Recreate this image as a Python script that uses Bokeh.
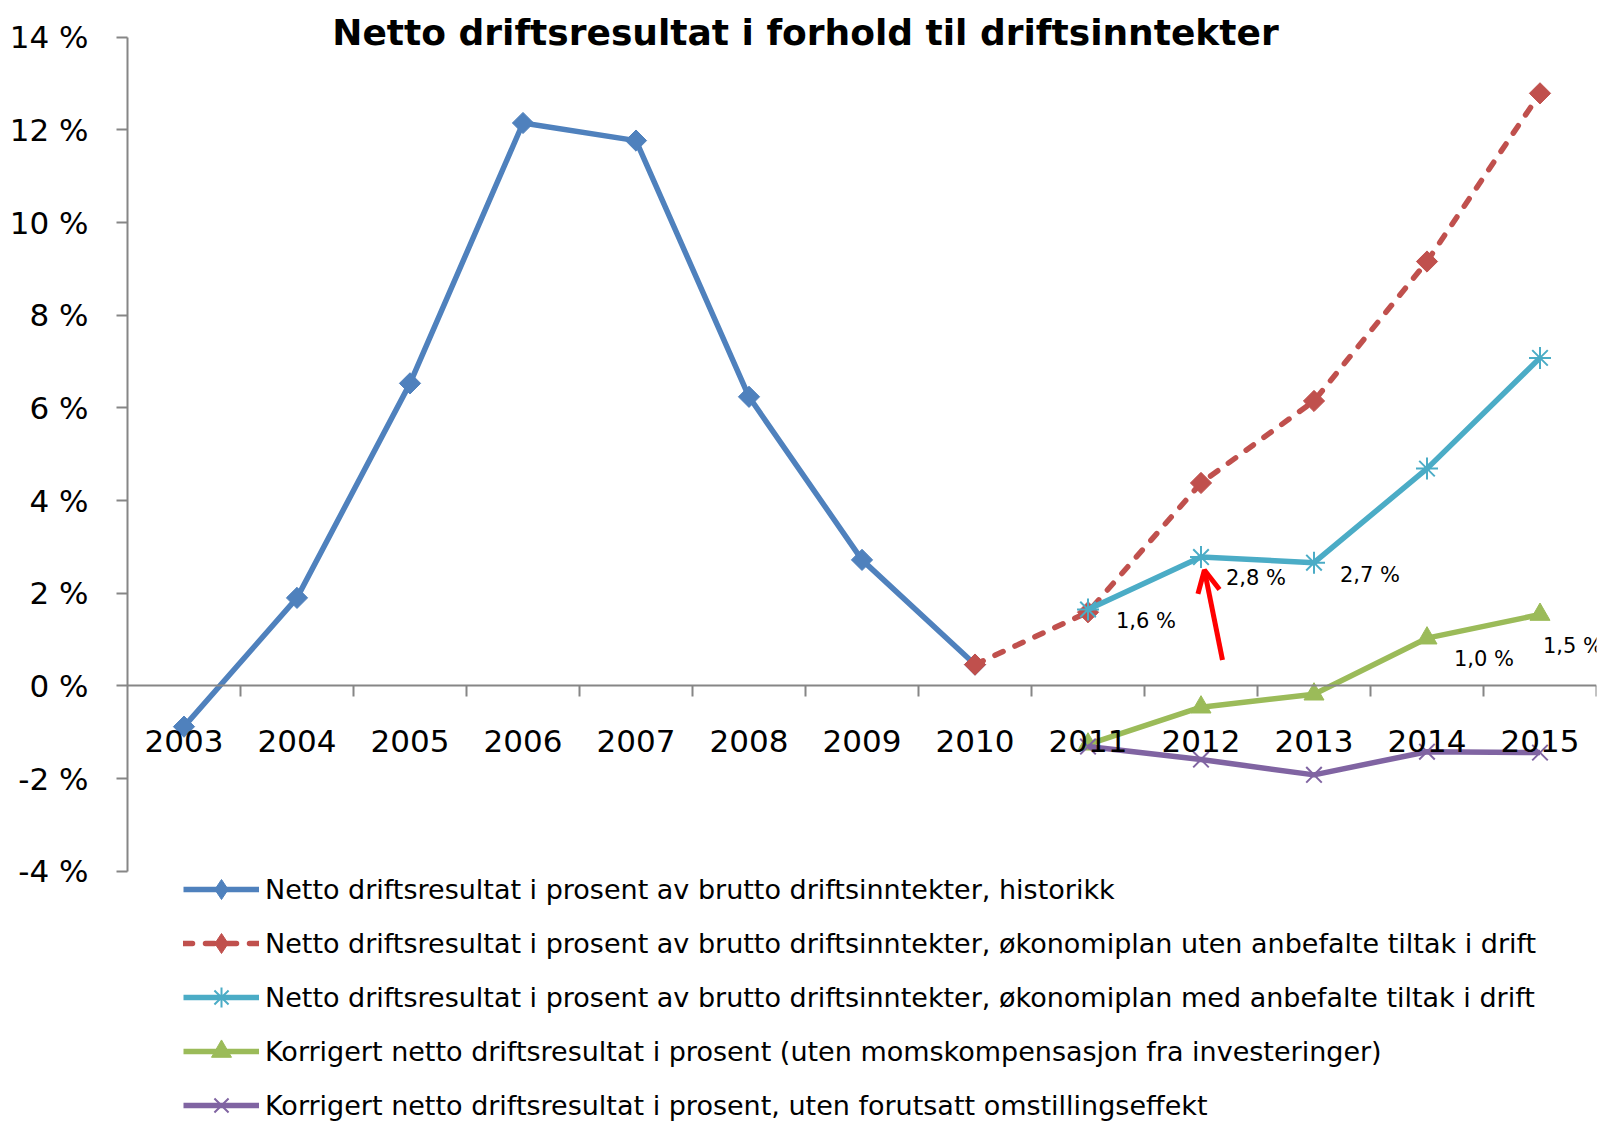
import numpy as np
from bokeh.plotting import figure
from bokeh.models import (Range1d, FixedTicker, LinearAxis, Legend, LegendItem, Label,
                          LabelSet, Arrow, OpenHead, ColumnDataSource, PrintfTickFormatter)
from bokeh.core.properties import value
from bokeh.embed import file_html
from bokeh.resources import INLINE

# ---------------- data ----------------
title_text = "Netto driftsresultat i forhold til driftsinntekter"
years = ["2003", "2004", "2005", "2006", "2007", "2008", "2009",
         "2010", "2011", "2012", "2013", "2014", "2015"]

hist_years = ["2003", "2004", "2005", "2006", "2007", "2008", "2009", "2010"]
hist_vals = [-0.88, 1.90, 6.53, 12.15, 11.77, 6.24, 2.72, 0.46]

uten_years = ["2010", "2011", "2012", "2013", "2014", "2015"]
uten_vals = [0.46, 1.59, 4.38, 6.15, 9.16, 12.79]

proj_years = ["2011", "2012", "2013", "2014", "2015"]
med_vals = [1.65, 2.78, 2.66, 4.69, 7.08]
moms_vals = [-1.26, -0.46, -0.18, 1.03, 1.54]
omst_vals = [-1.31, -1.59, -1.92, -1.42, -1.44]

y_ticks = [-4, -2, 0, 2, 4, 6, 8, 10, 12, 14]

series_names = [
    "Netto driftsresultat i prosent av brutto driftsinntekter, historikk",
    "Netto driftsresultat i prosent av brutto driftsinntekter, økonomiplan uten anbefalte tiltak i drift",
    "Netto driftsresultat i prosent av brutto driftsinntekter, økonomiplan med anbefalte tiltak i drift",
    "Korrigert netto driftsresultat i prosent (uten momskompensasjon fra investeringer)",
    "Korrigert netto driftsresultat i prosent, uten forutsatt omstillingseffekt",
]

# ---------------- layout / styling ----------------
FONT = "DejaVu Sans"
BLUE, RED, CYAN, GREEN, PURPLE = "#4F81BD", "#C0504D", "#4BACC6", "#9BBB59", "#8064A2"
AXIS = "#868686"
LW = 5.5

W, H = 1605, 1122
ZERO_PX = 685.4        # pixel row of the 0 % line
PX_PER_PCT = 46.33     # pixels per percentage point
Y_TOP = ZERO_PX / PX_PER_PCT
Y_BOTTOM = -(H - ZERO_PX) / PX_PER_PCT

idx = {y: i for i, y in enumerate(years)}

p = figure(width=W, height=H,
           x_range=Range1d(-0.5, len(years) - 0.5), y_range=Range1d(Y_BOTTOM, Y_TOP),
           output_backend="svg", toolbar_location=None,
           x_axis_location=None, y_axis_location=None,
           min_border_left=127, min_border_right=9, min_border_top=0, min_border_bottom=0)
p.outline_line_color = None
p.xgrid.visible = False
p.ygrid.visible = False
p.background_fill_color = "white"
p.border_fill_color = "white"

yaxis = LinearAxis(ticker=FixedTicker(ticks=y_ticks, minor_ticks=[]),
                   bounds=(min(y_ticks), max(y_ticks)),
                   formatter=PrintfTickFormatter(format="%d %%"),
                   axis_line_color=AXIS, axis_line_width=2,
                   major_tick_line_color=AXIS, major_tick_line_width=2,
                   major_tick_in=0, major_tick_out=11,
                   minor_tick_line_color=None,
                   major_label_standoff=28,
                   major_label_text_font=FONT, major_label_text_font_size="31px",
                   major_label_text_color="black")
p.add_layout(yaxis, "left")

xaxis = LinearAxis(fixed_location=0,
                   ticker=FixedTicker(ticks=list(range(len(years))),
                                      minor_ticks=[i + 0.5 for i in range(len(years))]),
                   major_label_overrides={i: y for i, y in enumerate(years)},
                   axis_line_color=AXIS, axis_line_width=2,
                   major_tick_in=0, major_tick_out=0, major_tick_line_color=None,
                   minor_tick_in=0, minor_tick_out=11,
                   minor_tick_line_color=AXIS, minor_tick_line_width=2,
                   major_label_standoff=33,
                   major_label_text_font=FONT, major_label_text_font_size="31px",
                   major_label_text_color="black")
p.add_layout(xaxis, "below")


def src(yrs, vals):
    return ColumnDataSource(dict(x=[idx[y] for y in yrs], y=vals))


s_hist = src(hist_years, hist_vals)
s_uten = src(uten_years, uten_vals)
s_med = src(proj_years, med_vals)
s_moms = src(proj_years, moms_vals)
s_omst = src(proj_years, omst_vals)

l1 = p.line("x", "y", source=s_hist, line_color=BLUE, line_width=LW)
# narrow diamond (used as the legend swatch) under the square-diamond marker
d1 = p.scatter("x", "y", source=s_hist, marker="diamond", size=18,
               fill_color=BLUE, line_color=BLUE)
m1 = p.scatter("x", "y", source=s_hist, marker="square", angle=np.pi / 4, size=15,
               fill_color=BLUE, line_color=BLUE)

l2 = p.line("x", "y", source=s_uten, line_color=RED, line_width=LW,
            line_dash="9 13", line_cap="round")
d2 = p.scatter("x", "y", source=s_uten, marker="diamond", size=18,
               fill_color=RED, line_color=RED)
m2 = p.scatter("x", "y", source=s_uten, marker="square", angle=np.pi / 4, size=15,
               fill_color=RED, line_color=RED)

l3 = p.line("x", "y", source=s_med, line_color=CYAN, line_width=LW)
m3 = p.scatter("x", "y", source=s_med, marker="asterisk", size=22,
               line_color=CYAN, line_width=2)

l4 = p.line("x", "y", source=s_moms, line_color=GREEN, line_width=LW)
m4 = p.scatter("x", "y", source=s_moms, marker="triangle", size=20,
               fill_color=GREEN, line_color=GREEN)

l5 = p.line("x", "y", source=s_omst, line_color=PURPLE, line_width=LW)
m5 = p.scatter("x", "y", source=s_omst, marker="x", size=22,
               line_color=PURPLE, line_width=2)

# data labels
lab_x = [idx["2011"], idx["2012"], idx["2013"], idx["2014"], idx["2015"]]
lab_vals = [med_vals[0], med_vals[1], med_vals[2], moms_vals[3], moms_vals[4]]
lab_text = [f"{v:.1f}".replace(".", ",") + " %" for v in lab_vals]
lab_dx = [28, 25, 26, 27, 3]
lab_dy = [-12, -21, -12, -21, -31]
lab_src = ColumnDataSource(dict(x=lab_x, y=lab_vals, t=lab_text, dx=lab_dx, dy=lab_dy))
p.add_layout(LabelSet(x="x", y="y", text="t", source=lab_src, x_offset="dx", y_offset="dy",
                      text_align="left", text_baseline="middle",
                      text_font=value(FONT), text_font_size=value("21px"),
                      text_color="black"))

# red arrow pointing at the 2012 value
arrow_x = idx["2012"]
p.add_layout(Arrow(end=OpenHead(size=22, line_color="red", line_width=5),
                   x_start=arrow_x + 0.19, y_start=0.56,
                   x_end=arrow_x + 0.03, y_end=med_vals[1] - 0.28,
                   line_color="red", line_width=5))

# title
p.add_layout(Label(x=5.5, y=14.11, text=title_text, text_align="center",
                   text_baseline="middle", text_font=FONT, text_font_style="bold",
                   text_font_size="36px", text_color="black"))

legend = Legend(items=[LegendItem(label=series_names[0], renderers=[l1, d1]),
                       LegendItem(label=series_names[1], renderers=[l2, d2]),
                       LegendItem(label=series_names[2], renderers=[l3, m3]),
                       LegendItem(label=series_names[3], renderers=[l4, m4]),
                       LegendItem(label=series_names[4], renderers=[l5, m5])],
                location=(56, -8), orientation="vertical",
                border_line_color=None, background_fill_alpha=0,
                padding=0, margin=0, spacing=4,
                glyph_width=76, glyph_height=50, label_height=50, label_standoff=6,
                label_text_font=FONT, label_text_font_size="27px", label_text_color="black")
p.add_layout(legend)

open("out.html", "w").write(file_html(p, INLINE))
